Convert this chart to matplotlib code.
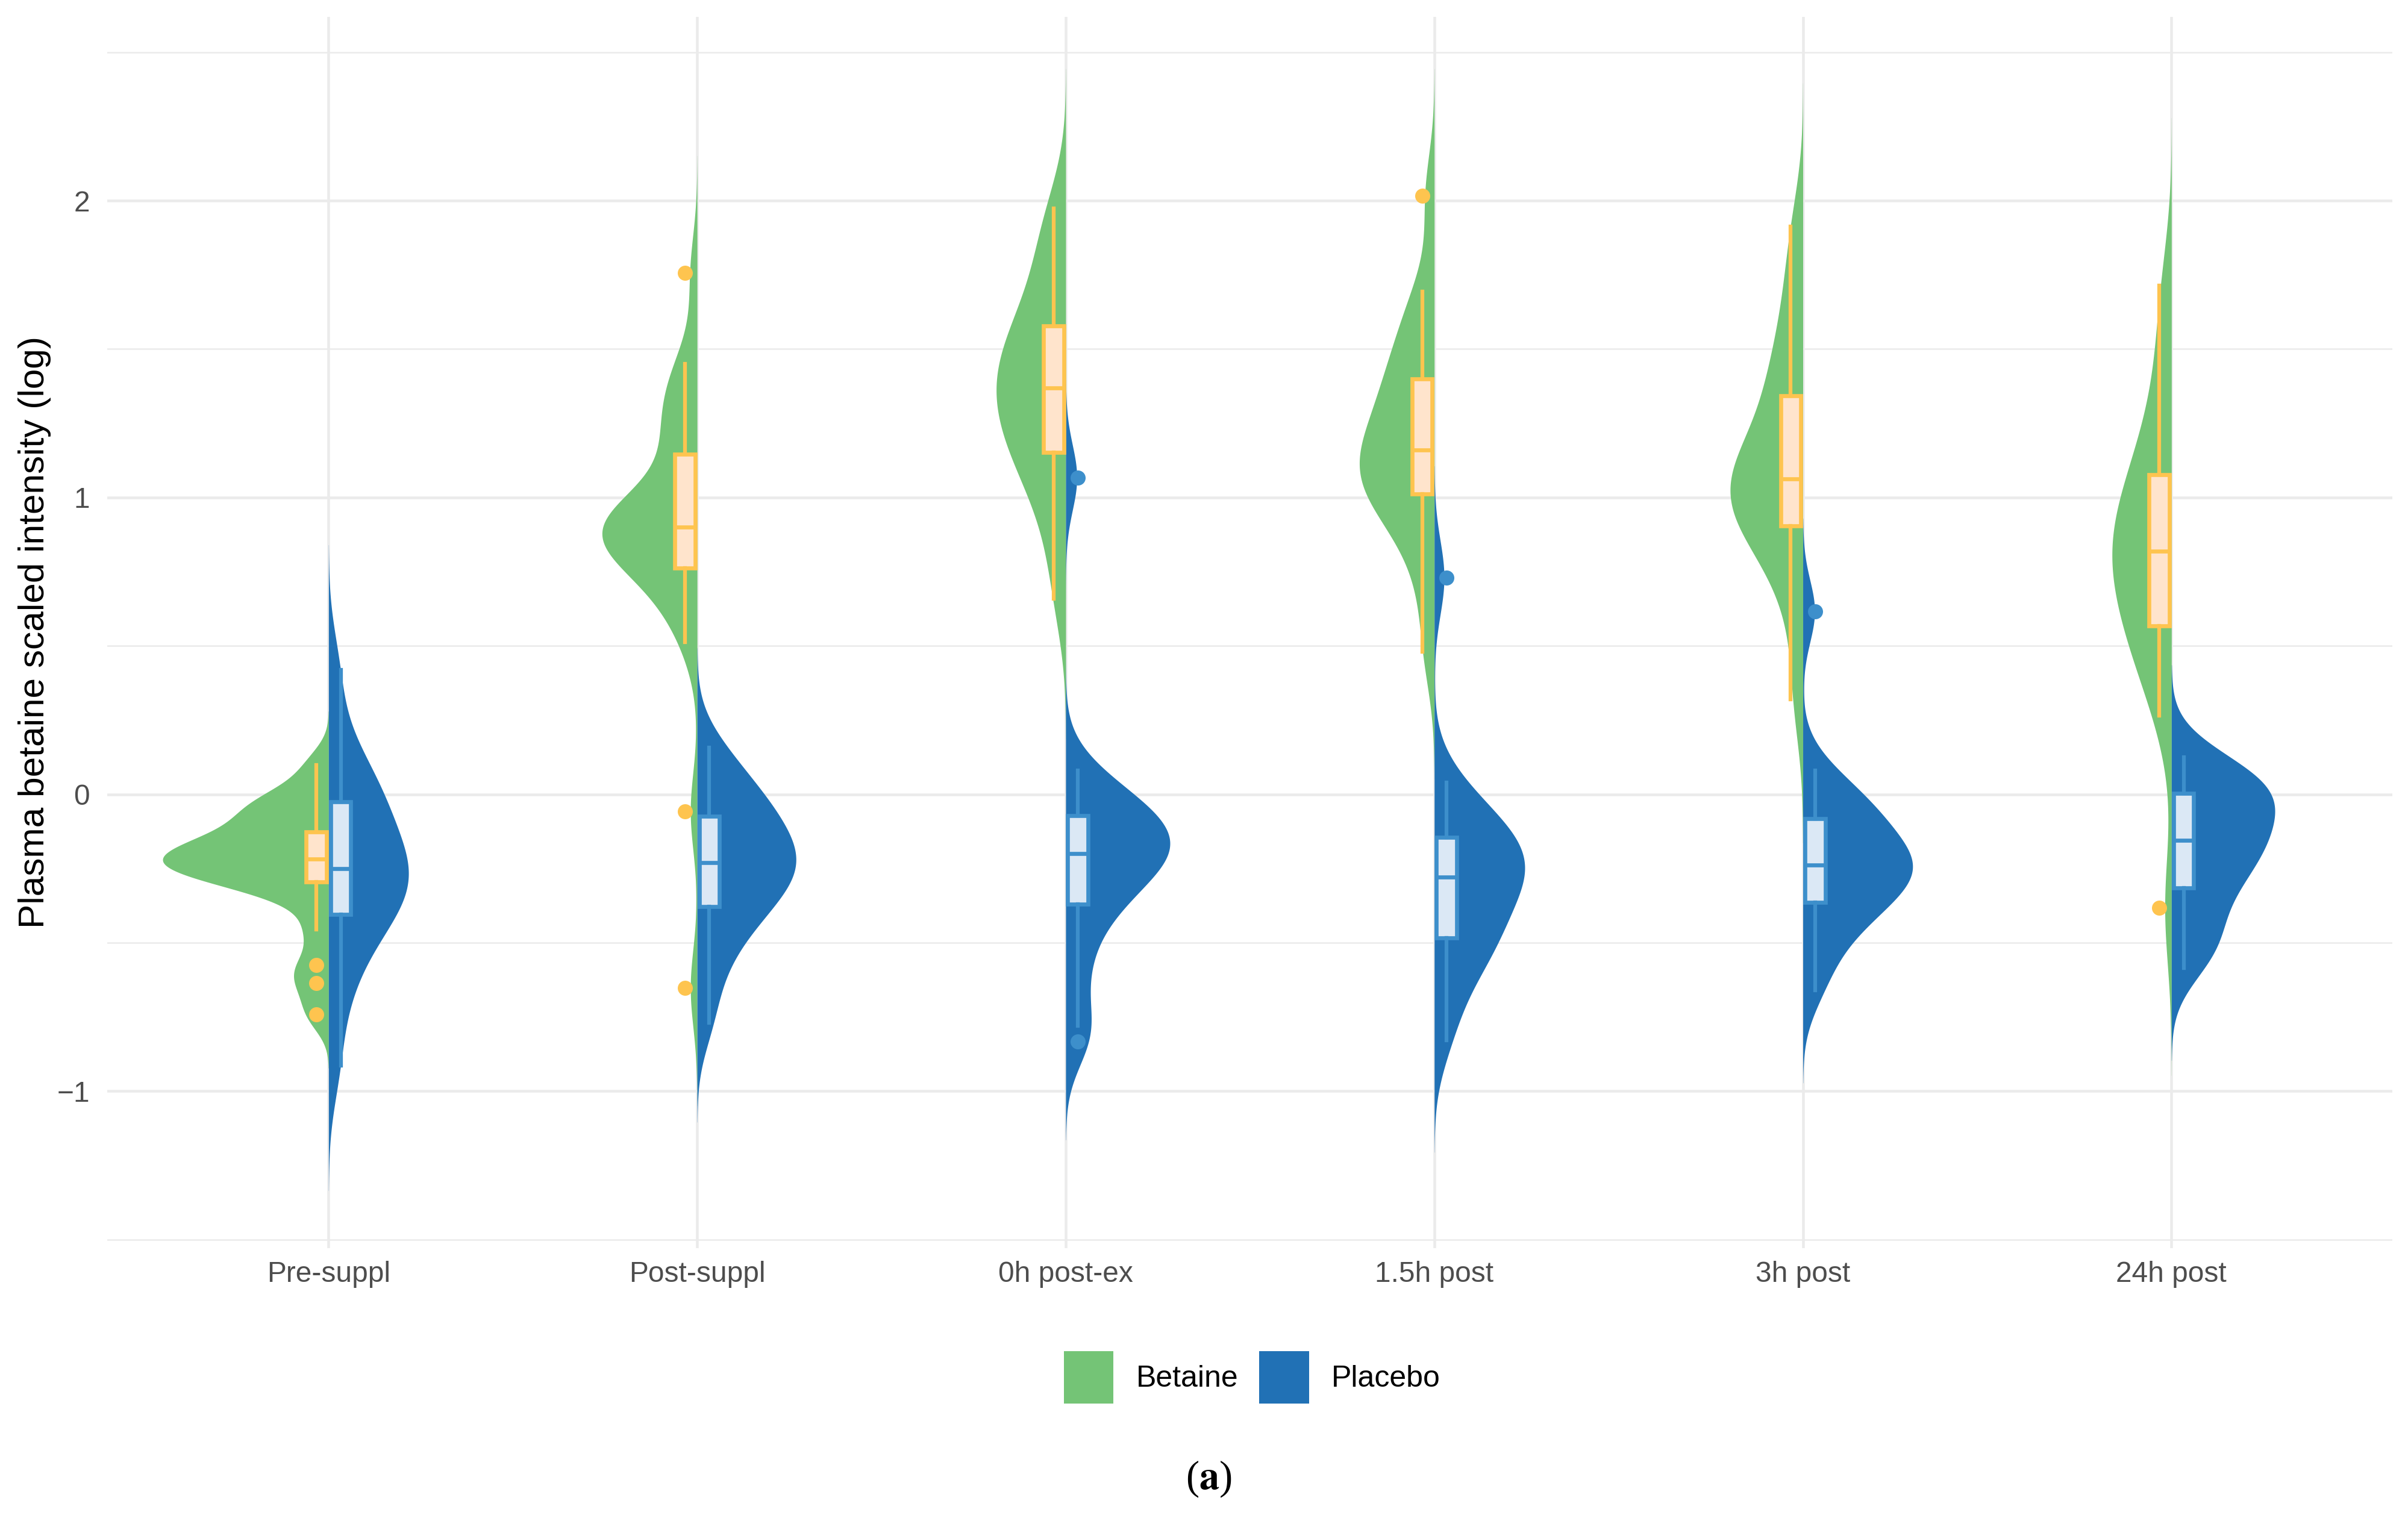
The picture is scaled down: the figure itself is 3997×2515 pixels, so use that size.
import matplotlib
matplotlib.use('Agg')
import matplotlib.pyplot as plt
from matplotlib.patches import Patch
import numpy as np

plt.rcParams['font.family'] = ['Liberation Sans', 'DejaVu Sans']

timepoints = ['Pre-suppl', 'Post-suppl', '0h post-ex', '1.5h post', '3h post', '24h post']
groups = ['Betaine', 'Placebo']

# log scaled intensities, one list per time point
betaine = [
    [-0.741, -0.637, -0.575, -0.456, -0.35, -0.30, -0.28, -0.27, -0.255, -0.24, -0.225,
     -0.21, -0.20, -0.185, -0.17, -0.15, -0.12, -0.08, -0.05, -0.03, 0.0, 0.098],
    [-0.653, -0.057, 0.513, 0.60, 0.68, 0.73, 0.755, 0.765, 0.86, 0.875, 0.885, 0.89,
     0.895, 0.90, 0.90, 0.905, 0.91, 0.915, 0.925, 0.95, 1.14, 1.16, 1.22, 1.28,
     1.34, 1.40, 1.45, 1.756],
    [0.658, 0.85, 0.98, 1.08, 1.13, 1.16, 1.22, 1.27, 1.31, 1.35, 1.39, 1.42, 1.45,
     1.50, 1.57, 1.60, 1.66, 1.78, 1.88, 1.974],
    [0.48, 0.70, 0.85, 0.93, 0.99, 1.02, 1.05, 1.08, 1.11, 1.14, 1.18, 1.22, 1.28,
     1.34, 1.39, 1.43, 1.52, 1.60, 1.694, 2.016],
    [0.32, 0.58, 0.75, 0.84, 0.89, 0.91, 0.97, 1.00, 1.03, 1.05, 1.075, 1.10, 1.15,
     1.22, 1.33, 1.38, 1.45, 1.58, 1.72, 1.912],
    [-0.383, 0.264, 0.40, 0.50, 0.53, 0.58, 0.66, 0.72, 0.77, 0.80, 0.84, 0.88, 0.92,
     0.97, 1.07, 1.10, 1.18, 1.32, 1.50, 1.715],
]
placebo = [
    [-0.915, -0.70, -0.58, -0.50, -0.42, -0.40, -0.36, -0.32, -0.29, -0.26, -0.24,
     -0.21, -0.17, -0.12, -0.03, -0.01, 0.02, 0.08, 0.20, 0.42],
    [-0.77, -0.62, -0.52, -0.45, -0.40, -0.37, -0.33, -0.29, -0.26, -0.24, -0.22,
     -0.20, -0.17, -0.13, -0.08, -0.06, -0.03, 0.02, 0.08, 0.158],
    [-0.834, -0.78, -0.62, -0.50, -0.40, -0.36, -0.31, -0.27, -0.23, -0.21, -0.19,
     -0.17, -0.15, -0.13, -0.075, -0.06, -0.04, 0.0, 0.08, 1.067],
    [-0.83, -0.70, -0.60, -0.54, -0.50, -0.48, -0.42, -0.37, -0.33, -0.29, -0.27,
     -0.25, -0.22, -0.19, -0.15, -0.13, -0.10, -0.04, 0.04, 0.73],
    [-0.66, -0.55, -0.47, -0.41, -0.38, -0.36, -0.31, -0.28, -0.26, -0.245, -0.23,
     -0.21, -0.18, -0.15, -0.09, -0.06, -0.04, 0.0, 0.08, 0.617],
    [-0.585, -0.52, -0.48, -0.42, -0.33, -0.31, -0.27, -0.22, -0.18, -0.16, -0.15,
     -0.11, -0.07, -0.04, 0.0, 0.01, 0.03, 0.05, 0.08, 0.124],
]

green = '#74C476'
blue = '#2171B5'
box_edge = ['#FEC44F', '#3D8FCB']
box_fill = ['#FFE4CC', '#DBE8F5']


def nrd0(x):
    sd = np.std(x, ddof=1)
    q75, q25 = np.percentile(x, [75, 25])
    return 0.9 * min(sd, (q75 - q25) / 1.34) * len(x) ** -0.2


def kde(x):
    x = np.asarray(x)
    bw = nrd0(x)
    grid = np.linspace(x.min() - 3 * bw, x.max() + 3 * bw, 512)
    z = (grid[:, None] - x[None, :]) / bw
    dens = np.exp(-0.5 * z ** 2).sum(axis=1) / (len(x) * bw * np.sqrt(2 * np.pi))
    return grid, dens


dens_b = [kde(v) for v in betaine]
dens_p = [kde(v) for v in placebo]
top = max(d.max() for _, d in dens_b + dens_p)
scale = 0.45 / top

fig = plt.figure(figsize=(3997 / 300, 2515 / 300), dpi=300)
ax = fig.add_axes([0.0446, 0.176, 0.949, 0.813])

pos = np.arange(1, len(timepoints) + 1)
for i, c in enumerate(pos):
    g, d = dens_b[i]
    ax.fill_betweenx(g, c - d * scale, c, color=green, lw=0, zorder=2)
    g, d = dens_p[i]
    ax.fill_betweenx(g, c, c + d * scale, color=blue, lw=0, zorder=2)

for k, (vals, off) in enumerate([(betaine, -0.033), (placebo, 0.033)]):
    ec = box_edge[k]
    ax.boxplot(vals, positions=pos + off, widths=0.055, patch_artist=True,
               showcaps=False, manage_ticks=False, zorder=3,
               boxprops=dict(facecolor=box_fill[k], edgecolor=ec, linewidth=1.6),
               medianprops=dict(color=ec, linewidth=1.6),
               whiskerprops=dict(color=ec, linewidth=1.5),
               flierprops=dict(marker='o', markerfacecolor=ec, markeredgecolor='none',
                               markersize=6))

ax.set_xlim(0.4, 6.6)
ax.set_ylim(-1.53, 2.62)
ax.set_xticks(pos)
ax.set_xticklabels(timepoints)
ax.set_yticks([-1, 0, 1, 2])
ax.set_yticks([-1.5, -0.5, 0.5, 1.5, 2.5], minor=True)
ax.grid(which='major', color='#EBEBEB', linewidth=1.1, zorder=0)
ax.grid(which='minor', axis='y', color='#EBEBEB', linewidth=0.6, zorder=0)
ax.set_axisbelow(True)
for s in ax.spines.values():
    s.set_visible(False)
ax.tick_params(which='both', length=0, labelsize=11.5, labelcolor='#4D4D4D')
ax.tick_params(axis='x', pad=5)
ax.tick_params(axis='y', pad=7)

fig.text(0.0145, 0.5826, 'Plasma betaine scaled intensity (log)', rotation=90,
         ha='center', va='center', fontsize=14.5)

handles = [Patch(facecolor=green, edgecolor='none'), Patch(facecolor=blue, edgecolor='none')]
fig.legend(handles, groups, loc='center', bbox_to_anchor=(0.52, 0.091), ncol=2,
           frameon=False, fontsize=12, handlelength=1.65, handleheight=2.3,
           handletextpad=0.75, columnspacing=0.7)

fig.text(0.502, 0.024, r'($\mathbf{a}$)', ha='center', va='center', fontsize=16,
         family='Liberation Serif', math_fontfamily='stix')

fig.savefig('out.png', dpi=300)
